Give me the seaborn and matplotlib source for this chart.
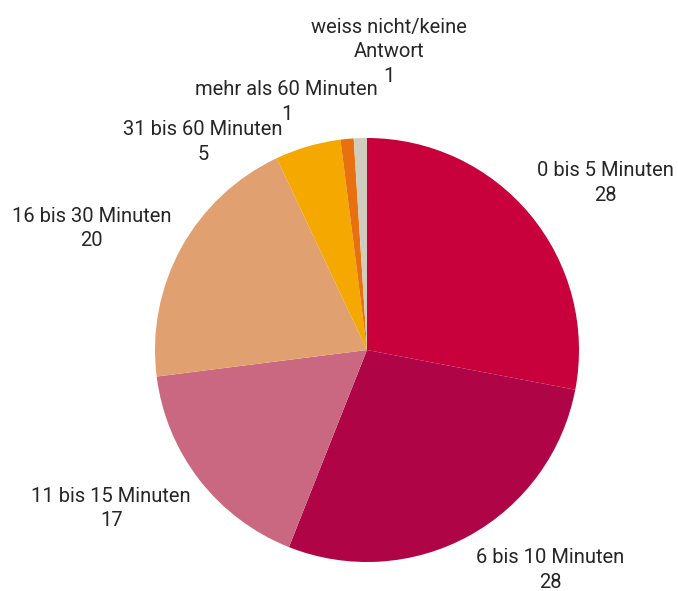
import numpy as np
import matplotlib
matplotlib.use("Agg")
import matplotlib.pyplot as plt
import seaborn as sns

# Antworten (Prozent)
categories = ["0 bis 5 Minuten", "6 bis 10 Minuten", "11 bis 15 Minuten",
              "16 bis 30 Minuten", "31 bis 60 Minuten", "mehr als 60 Minuten",
              "weiss nicht/keine\nAntwort"]
values = [28, 28, 17, 20, 5, 1, 1]
colors = ["#C8003C", "#AF0446", "#C96880", "#E0A070", "#F4A800", "#E8700F", "#D0CDBE"]

# label placement: (distance from centre in radii, angle shift in degrees)
label_dist = [1.375, 1.35, 1.42, 1.42, 1.25, 1.23, 1.41]
label_shift = [-4.6, 11.0, -6.0, 5.0, 22.0, 12.5, -6.0]

sns.set_theme(style="white")
plt.rcParams["font.family"] = ["Roboto", "DejaVu Sans"]

fig = plt.figure(figsize=(6.78, 5.91), dpi=100)
ax = fig.add_axes([0, 0, 1, 1])

wedges, _ = ax.pie(values, colors=colors, startangle=90, counterclock=False,
                   radius=1.0, center=(0, 0),
                   wedgeprops=dict(linewidth=0))

for w, cat, v, d, s in zip(wedges, categories, values, label_dist, label_shift):
    mid = np.deg2rad((w.theta1 + w.theta2) / 2 + s)
    ax.text(d * np.cos(mid), d * np.sin(mid), f"{cat}\n{v}",
            ha="center", va="center", fontsize=14.5,
            color="#262626", linespacing=1.38)

ax.set_aspect("equal")
ax.set_xlim(-367 / 212, (678 - 367) / 212)
ax.set_ylim(-(591 - 350) / 212, 350 / 212)
ax.axis("off")

fig.savefig("out.png", dpi=100)
